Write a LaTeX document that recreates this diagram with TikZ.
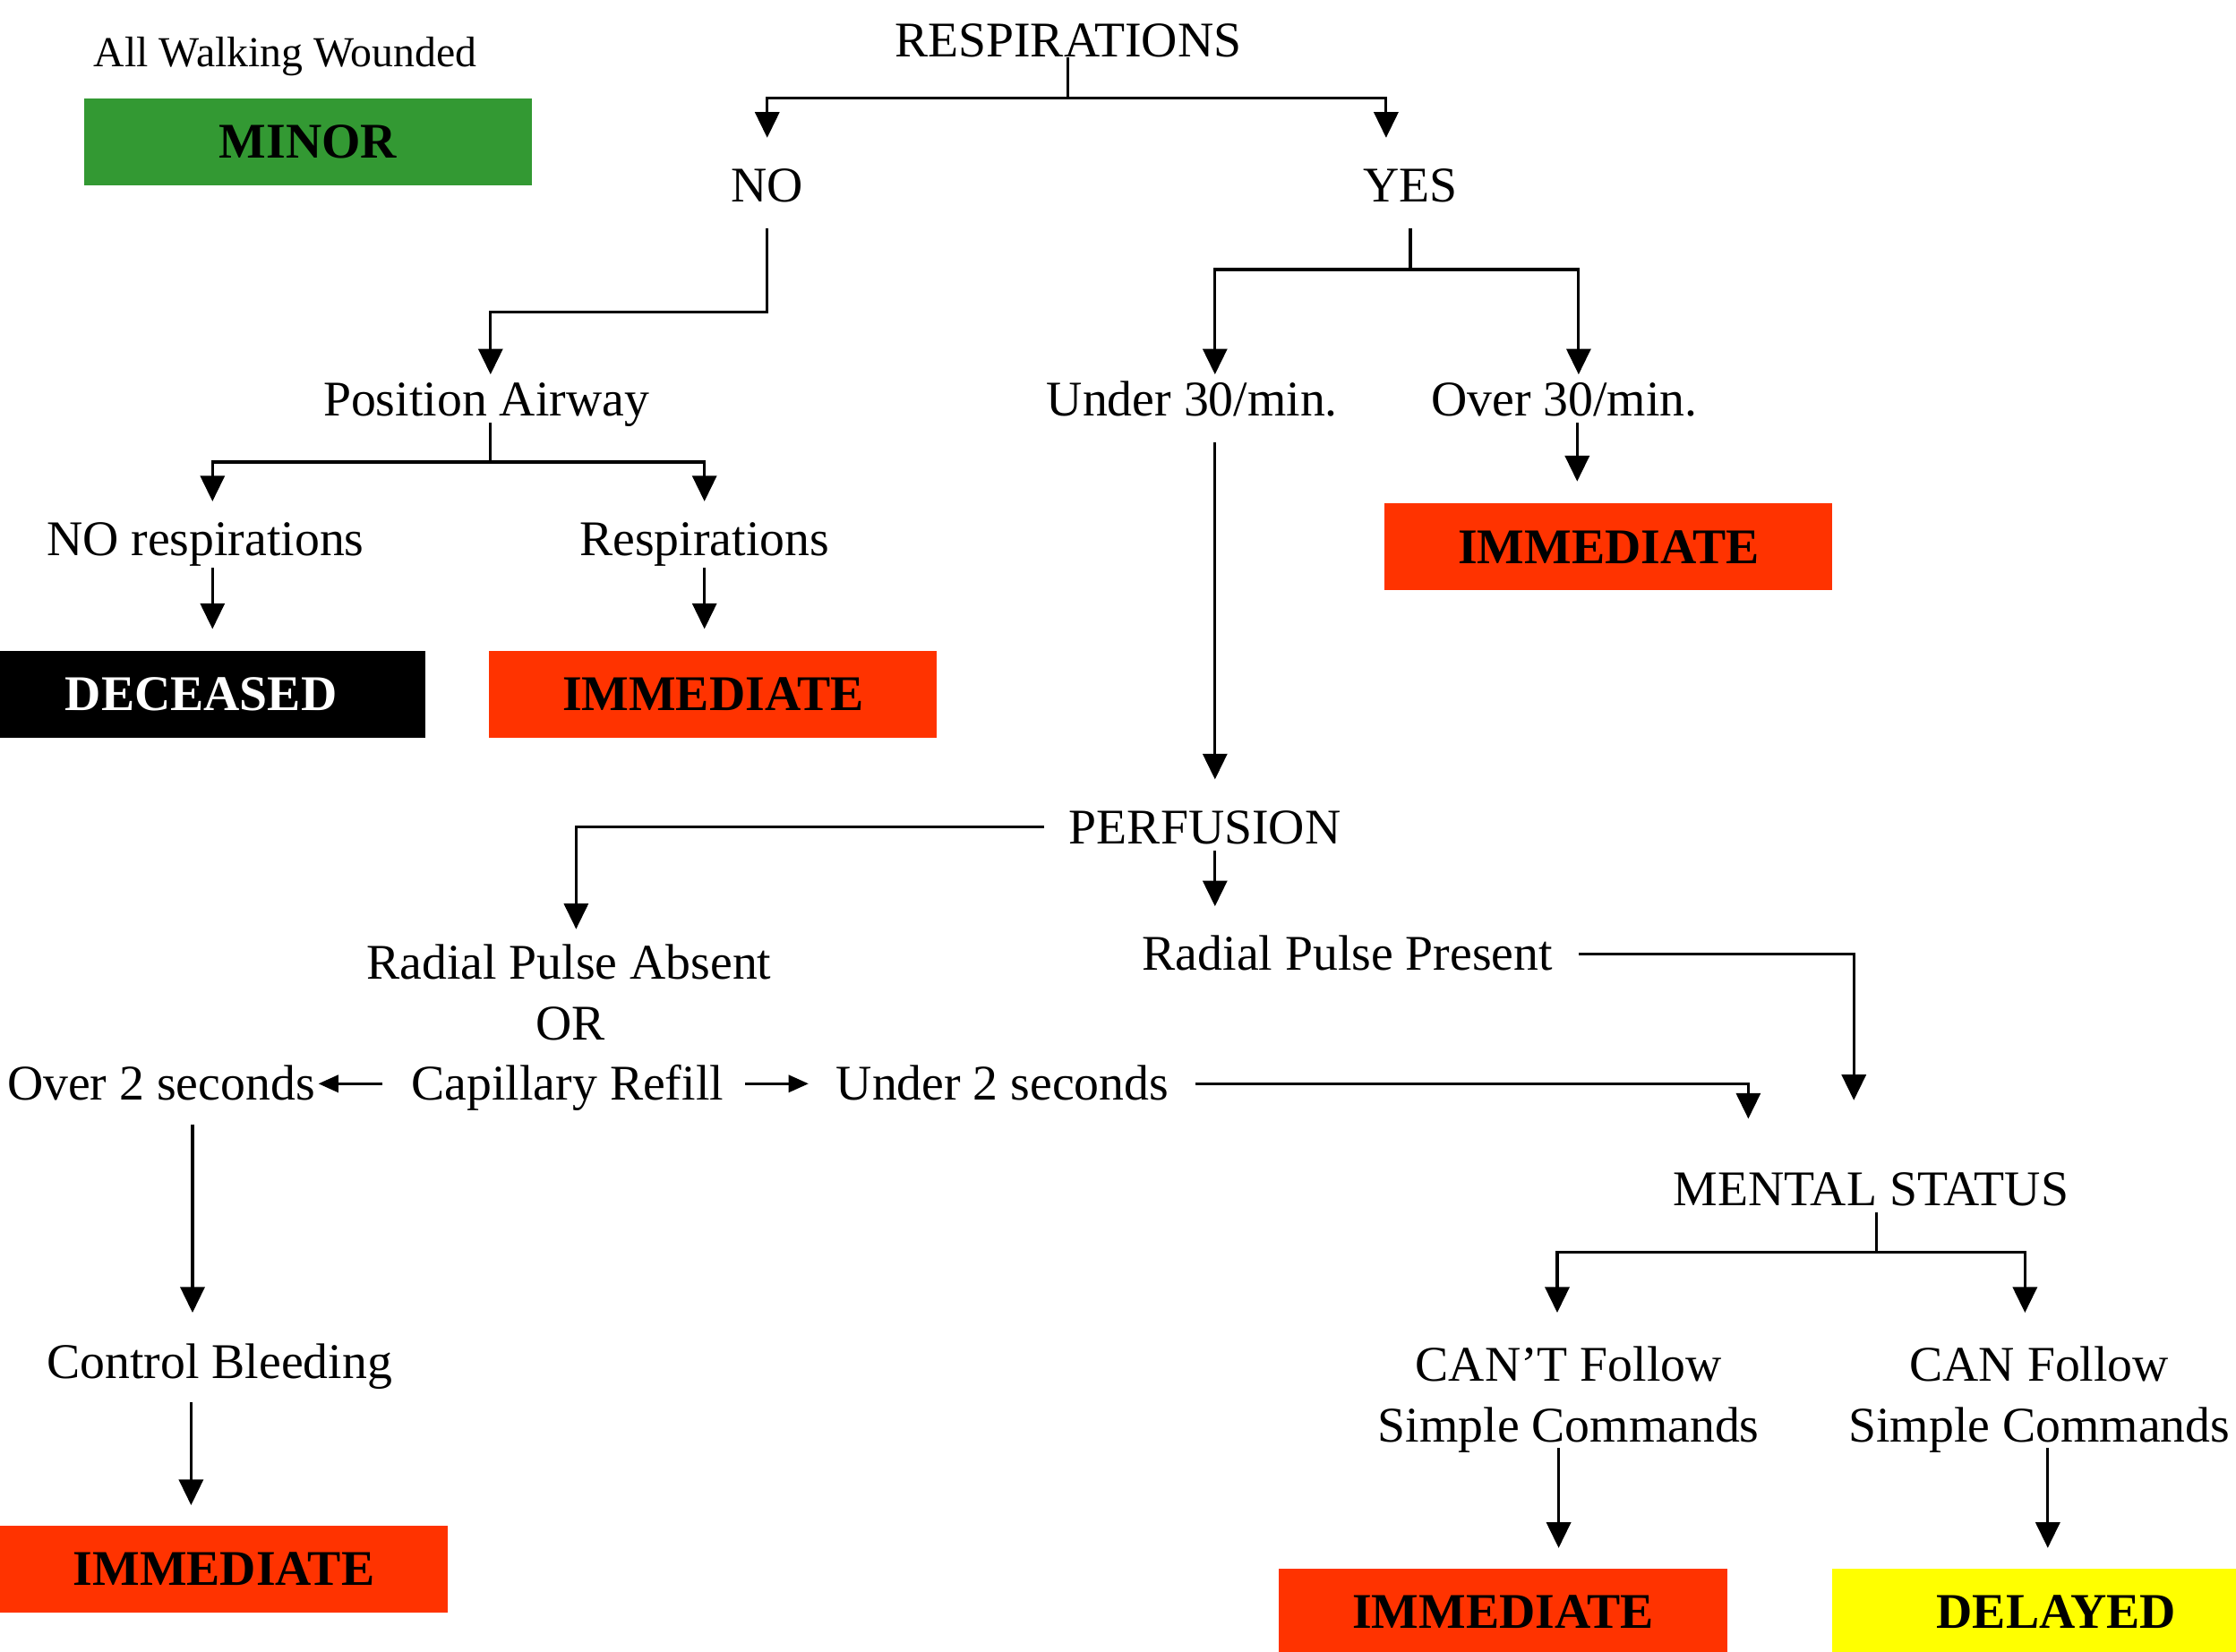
\documentclass[tikz,border=0pt]{standalone}
\usepackage{fontspec}
\setmainfont{Liberation Serif}
\usetikzlibrary{arrows.meta}
\definecolor{mgreen}{RGB}{51,153,51}
\definecolor{mred}{RGB}{255,51,0}
\definecolor{myellow}{RGB}{255,255,0}
\begin{document}
\begin{tikzpicture}[x=0.5pt,y=-0.5pt,
  lbl/.style={inner sep=0pt, text height=11.6pt, text depth=0pt, font=\fontsize{17.5}{21}\selectfont},
  box/.style={minimum width=157pt, minimum height=30.5pt, inner sep=0pt, font=\bfseries\fontsize{17.5}{21}\selectfont},
  line/.style={line width=1pt},
  arr/.style={line, -{Triangle[length=9pt,width=8.5pt]}},
  sarr/.style={line, -{Triangle[length=7pt,width=6pt]}}]
\clip (0,0) rectangle (1568,1158);
\fill[white] (0,0) rectangle (1568,1158);

% level coordinates
\coordinate (y69) at (0,69);
\coordinate (y189) at (0,189);
\coordinate (y219) at (0,219);
\coordinate (y324) at (0,324);
\coordinate (y878) at (0,878);

% labels
\node[lbl, font=\fontsize{15}{18}\selectfont, text height=9.9pt] (awl) at (200,37) {All Walking Wounded};
\node[lbl] (resp) at (749,28) {RESPIRATIONS};
\node[lbl] (no) at (538,130) {NO};
\node[lbl] (yes) at (989,130) {YES};
\node[lbl] (pa) at (341,280) {Position Airway};
\node[lbl] (nor) at (144,378) {NO respirations};
\node[lbl] (rsp) at (494,378) {Respirations};
\node[lbl] (u30) at (836,280) {Under 30/min.};
\node[lbl] (o30) at (1097,280) {Over 30/min.};
\node[lbl] (perf) at (845,580) {PERFUSION};
\node[lbl] (rpa) at (399,675) {Radial Pulse Absent};
\node[lbl] (orr) at (400,718) {OR};
\node[lbl] (cap) at (398,760) {Capillary Refill};
\node[lbl] (rpp) at (945,669) {Radial Pulse Present};
\node[lbl] (o2) at (113,760) {Over 2 seconds};
\node[lbl] (u2) at (703,760) {Under 2 seconds};
\node[lbl] (cb) at (154,955) {Control Bleeding};
\node[lbl] (ms) at (1312,834) {MENTAL STATUS};
\node[lbl] (cant1) at (1100,957) {CAN’T Follow};
\node[lbl] (cant2) at (1100,1000) {Simple Commands};
\node[lbl] (can1) at (1430,957) {CAN Follow};
\node[lbl] (can2) at (1430,1000) {Simple Commands};

% boxes
\node[box, fill=mgreen] (minor) at (216,99.5) {MINOR};
\node[box, fill=black, text=white] (dec) at (141,487) {DECEASED};
\node[box, fill=mred] (imm1) at (500,487) {IMMEDIATE};
\node[box, fill=mred] (imm2) at (1128,383.5) {IMMEDIATE};
\node[box, fill=mred] (imm3) at (157,1100.5) {IMMEDIATE};
\node[box, fill=mred] (imm4) at (1054,1130.5) {IMMEDIATE};
\node[box, fill=myellow] (del) at (1442,1130.5) {DELAYED};

% helper anchors
\coordinate (yesT) at ([xshift=-8.5pt]yes.north);
\coordinate (paT) at ([xshift=1.5pt]pa.north);
\coordinate (paB) at ([xshift=1.5pt]pa.south);
\coordinate (norT) at ([xshift=2.5pt]nor.north);
\coordinate (norB) at ([xshift=2.5pt]nor.south);
\coordinate (u30T) at ([xshift=8pt]u30.north);
\coordinate (u30B) at ([xshift=8pt]u30.south);
\coordinate (o30T) at ([xshift=5pt]o30.north);
\coordinate (o30B) at ([xshift=4.5pt]o30.south);
\coordinate (rpaT) at ([xshift=2.5pt]rpa.north);
\coordinate (perfB) at ([xshift=3.5pt]perf.south);
\coordinate (msT1) at ([xshift=-6pt]ms.north);
\coordinate (msT2) at ([xshift=-43pt]ms.north);
\coordinate (msB) at ([xshift=2pt]ms.south);
\coordinate (o2B) at ([xshift=11pt]o2.south);
\coordinate (cbB) at ([xshift=-10pt]cb.south);
\coordinate (cantT) at ([xshift=-4pt]cant1.north);
\coordinate (canT) at ([xshift=-5pt]can1.north);
\coordinate (cantB) at ([xshift=-3.5pt]cant2.south);
\coordinate (canB) at ([xshift=3pt]can2.south);

% connectors
\draw[line] (resp.south) -- (resp.south |- y69);
\draw[arr, shorten >=10.7pt] (resp.south |- y69) -| (no.north);
\draw[arr, shorten >=10.7pt] (resp.south |- y69) -| (yesT);
\draw[arr, shorten <=9.2pt, shorten >=2.7pt] (no.south) |- (paT |- y219) -- (paT);
\draw[line, shorten <=2.2pt] (paB) -- (paB |- y324);
\draw[arr, shorten >=7.2pt] (paB |- y324) -| (norT);
\draw[arr, shorten >=7.2pt] (paB |- y324) -| (rsp.north);
\draw[arr, shorten <=4.2pt, shorten >=7.5pt] (norB) -- (norB |- dec.north);
\draw[arr, shorten <=4.2pt, shorten >=7.5pt] (rsp.south) -- (rsp.south |- imm1.north);
\draw[line, shorten <=9.2pt] (yes.south) -- (yes.south |- y189);
\draw[arr, shorten >=2.7pt] (yes.south |- y189) -| (u30T);
\draw[arr, shorten >=2.7pt] (yes.south |- y189) -| (o30T);
\draw[arr, shorten <=2.2pt, shorten >=7.5pt] (o30B) -- (o30B |- imm2.north);
\draw[arr, shorten <=9.2pt, shorten >=10.7pt] (u30B) -- (u30B |- perf.north);
\draw[arr, shorten <=8.5pt, shorten >=5.7pt] (perf.west) -| (rpaT);
\draw[arr, shorten <=2.2pt, shorten >=10.7pt] (perfB) -- (perfB |- rpp.north);
\draw[arr, shorten <=9pt, shorten >=25.2pt] (rpp.east) -| (msT1);
\draw[arr, shorten <=9pt, shorten >=18.7pt] (u2.east) -| (msT2);
\draw[sarr, shorten <=7.5pt, shorten >=9.5pt] (cap.east) -- (u2.west);
\draw[sarr, shorten <=10pt, shorten >=1pt] (cap.west) -- (o2.east);
\draw[arr, shorten <=8.2pt, shorten >=11.2pt] (o2B) -- (o2B |- cb.north);
\draw[arr, shorten <=8.2pt, shorten >=7pt] (cbB) -- (cbB |- imm3.north);
\draw[line, shorten <=2.2pt] (msB) -- (msB |- y878);
\draw[arr, shorten >=12.2pt] (msB |- y878) -| (cantT);
\draw[arr, shorten >=12.2pt] (msB |- y878) -| (canT);
\draw[arr, shorten <=1.7pt, shorten >=7pt] (cantB) -- (cantB |- imm4.north);
\draw[arr, shorten <=1.7pt, shorten >=7pt] (canB) -- (canB |- del.north);
\end{tikzpicture}
\end{document}
